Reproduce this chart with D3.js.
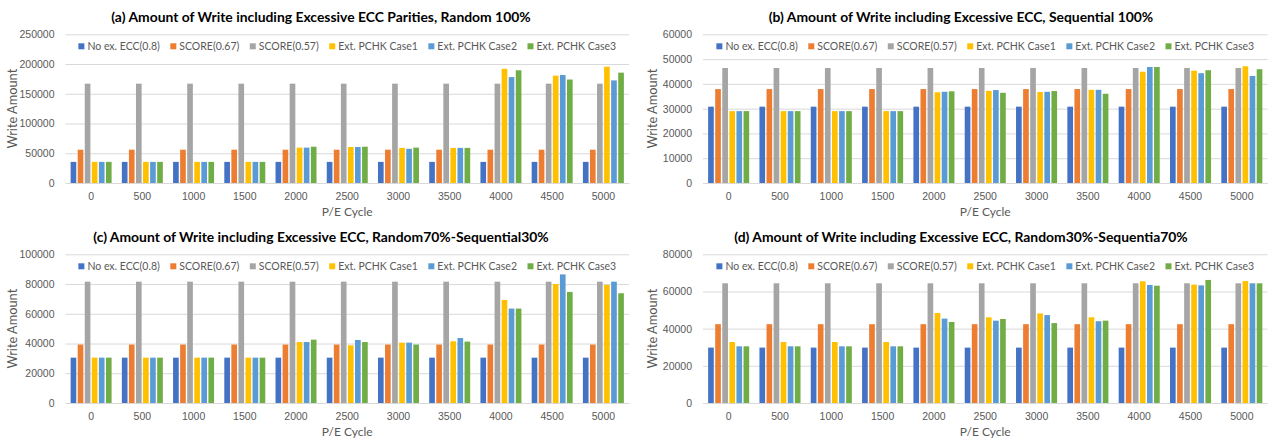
<!DOCTYPE html>
<html>
<head>
<meta charset="utf-8">
<script src="https://cdn.jsdelivr.net/npm/d3@7"></script>
<style>
  html, body { margin: 0; padding: 0; background: #fff; }
  svg { display: block; font-family: Lato, "Open Sans", sans-serif; }
</style>
</head>
<body>
<svg id="chart" width="1268" height="440"></svg>
<script>
// P/E cycle categories shared by every panel
const cycles = ["0", "500", "1000", "1500", "2000", "2500", "3000", "3500", "4000", "4500", "5000"];

const seriesNames = ["No ex. ECC(0.8)", "SCORE(0.67)", "SCORE(0.57)", "Ext. PCHK Case1", "Ext. PCHK Case2", "Ext. PCHK Case3"];
const seriesColors = ["#4472C4", "#ED7D31", "#A5A5A5", "#FFC000", "#5B9BD5", "#70AD47"];

// (a) Random 100%
const randNoEx   = [35500, 35500, 35500, 35500, 35500, 35500, 35500, 35500, 35500, 35500, 35500];
const randScore67 = [56000, 56000, 56000, 56000, 56000, 56000, 56000, 56000, 56000, 56000, 56000];
const randScore57 = [167000, 167000, 167000, 167000, 167000, 167000, 167000, 167000, 167000, 167000, 167000];
const randCase1  = [35500, 35500, 35500, 35500, 59500, 60500, 59000, 59000, 192000, 180500, 195500];
const randCase2  = [35500, 35500, 35500, 35500, 59500, 60500, 57500, 59000, 178000, 181500, 172500];
const randCase3  = [35500, 35500, 35500, 35500, 61000, 61000, 59500, 59000, 189500, 174000, 185500];
const randTicks  = [0, 50000, 100000, 150000, 200000, 250000];

// (b) Sequential 100%
const seqNoEx    = [30800, 30800, 30800, 30800, 30800, 30800, 30800, 30800, 30800, 30800, 30800];
const seqScore67 = [37900, 37900, 37900, 37900, 37900, 37900, 37900, 37900, 37900, 37900, 37900];
const seqScore57 = [46400, 46400, 46400, 46400, 46400, 46400, 46400, 46400, 46400, 46400, 46400];
const seqCase1   = [29000, 29000, 29000, 29000, 36600, 37200, 36700, 37600, 44900, 45300, 47100];
const seqCase2   = [29000, 29000, 29000, 29000, 36800, 37500, 36800, 37600, 46800, 44300, 43200];
const seqCase3   = [29000, 29000, 29000, 29000, 37000, 36400, 37100, 36000, 46800, 45500, 45900];
const seqTicks   = [0, 10000, 20000, 30000, 40000, 50000, 60000];

// (c) Random 70% - Sequential 30%
const r70NoEx    = [30500, 30500, 30500, 30500, 30500, 30500, 30500, 30500, 30500, 30500, 30500];
const r70Score67 = [39300, 39300, 39300, 39300, 39300, 39300, 39300, 39300, 39300, 39300, 39300];
const r70Score57 = [81600, 81600, 81600, 81600, 81600, 81600, 81600, 81600, 81600, 81600, 81600];
const r70Case1   = [30500, 30500, 30500, 30500, 41000, 38800, 40600, 41500, 69300, 80000, 79400];
const r70Case2   = [30500, 30500, 30500, 30500, 41000, 42400, 40600, 43700, 63500, 86500, 81600];
const r70Case3   = [30500, 30500, 30500, 30500, 42600, 41000, 39300, 41300, 63500, 74700, 73800];
const r70Ticks   = [0, 20000, 40000, 60000, 80000, 100000];

// (d) Random 30% - Sequential 70%
const r30NoEx    = [29800, 29800, 29800, 29800, 29800, 29800, 29800, 29800, 29800, 29800, 29800];
const r30Score67 = [42400, 42400, 42400, 42400, 42400, 42400, 42400, 42400, 42400, 42400, 42400];
const r30Score57 = [64400, 64400, 64400, 64400, 64400, 64400, 64400, 64400, 64400, 64400, 64400];
const r30Case1   = [32800, 32800, 32800, 32800, 48400, 46100, 48200, 46100, 65500, 63700, 65600];
const r30Case2   = [30500, 30500, 30500, 30500, 45400, 44300, 47300, 44000, 63500, 63300, 64400];
const r30Case3   = [30500, 30500, 30500, 30500, 43600, 45200, 43000, 44300, 63100, 66200, 64400];
const r30Ticks   = [0, 20000, 40000, 60000, 80000];

const panels = [
  { title: "(a) Amount of Write including Excessive ECC Parities, Random 100%",
    series: [randNoEx, randScore67, randScore57, randCase1, randCase2, randCase3], ticks: randTicks,
    left: 0, top: 0, x0: 65.5, x1: 629, y0: 34.3, y1: 183 },
  { title: "(b) Amount of Write including Excessive ECC, Sequential 100%",
    series: [seqNoEx, seqScore67, seqScore57, seqCase1, seqCase2, seqCase3], ticks: seqTicks,
    left: 640, top: 0, x0: 63, x1: 627.5, y0: 34.3, y1: 183 },
  { title: "(c) Amount of Write including Excessive ECC, Random70%-Sequential30%",
    series: [r70NoEx, r70Score67, r70Score57, r70Case1, r70Case2, r70Case3], ticks: r70Ticks,
    left: 0, top: 220, x0: 65.5, x1: 629, y0: 34.3, y1: 183 },
  { title: "(d) Amount of Write including Excessive ECC, Random30%-Sequentia70%",
    series: [r30NoEx, r30Score67, r30Score57, r30Case1, r30Case2, r30Case3], ticks: r30Ticks,
    left: 640, top: 220, x0: 63, x1: 627.5, y0: 34.3, y1: 183 }
];

const svg = d3.select("#chart");
const textGrey = "#595959";
const gridGrey = "#D9D9D9";

panels.forEach(p => {
  const g = svg.append("g").attr("transform", `translate(${p.left},${p.top})`);
  const w = p.x1 - p.x0, h = p.y1 - p.y0;
  const plot = g.append("g").attr("transform", `translate(${p.x0},${p.y0})`);

  const x = d3.scaleBand().domain(cycles).range([0, w]).paddingInner(0.2).paddingOuter(0.1);
  const xs = d3.scaleBand().domain(d3.range(seriesNames.length)).range([0, x.bandwidth()]).paddingInner(0.2);
  const y = d3.scaleLinear().domain([0, d3.max(p.ticks)]).range([h, 0]);

  // horizontal gridlines with value labels
  const yAxis = plot.append("g")
    .call(d3.axisLeft(y).tickValues(p.ticks).tickSize(-w).tickPadding(11).tickFormat(d3.format("d")));
  yAxis.select(".domain").remove();
  yAxis.selectAll(".tick line").attr("stroke", gridGrey).attr("stroke-width", 1);
  yAxis.selectAll(".tick text").attr("fill", textGrey).style("font-size", "10.5px");

  // bars
  p.series.forEach((vals, si) => {
    plot.append("g").selectAll("rect")
      .data(vals)
      .join("rect")
      .attr("x", (d, i) => x(cycles[i]) + xs(si))
      .attr("y", d => y(d))
      .attr("width", xs.bandwidth())
      .attr("height", d => h - y(d))
      .attr("fill", seriesColors[si]);
  });

  // category axis
  const xAxis = plot.append("g").attr("transform", `translate(0,${h})`)
    .call(d3.axisBottom(x).tickSize(0).tickPadding(10));
  xAxis.select(".domain").attr("stroke", gridGrey);
  xAxis.selectAll(".tick text").attr("fill", textGrey).style("font-size", "10.5px");

  // axis titles
  g.append("text")
    .attr("x", p.x0 + w / 2).attr("y", p.y1 + 33)
    .attr("text-anchor", "middle").attr("fill", textGrey)
    .style("font-size", "12px").text("P/E Cycle");
  g.append("text")
    .attr("transform", `translate(17,${p.y0 + h / 2}) rotate(-90)`)
    .attr("text-anchor", "middle").attr("fill", textGrey)
    .style("font-size", "12.8px").text("Write Amount");

  // chart title
  g.append("text")
    .attr("x", 321).attr("y", 21.5)
    .attr("text-anchor", "middle").attr("fill", "#000")
    .style("font-size", "13.9px").style("font-weight", "bold")
    .text(p.title);

  // legend, centred over the plot
  const leg = g.append("g").attr("transform", `translate(0,${p.y0 + 12})`);
  const items = leg.selectAll("g").data(seriesNames).join("g");
  items.append("rect").attr("width", 6).attr("height", 6).attr("y", -3)
    .attr("fill", (d, i) => seriesColors[i]);
  items.append("text").attr("x", 9).attr("dy", "0.35em")
    .attr("fill", textGrey).style("font-size", "10.5px").text(d => d);
  const gap = 10.5;
  let widths = [];
  items.each(function() { widths.push(9 + d3.select(this).select("text").node().getComputedTextLength()); });
  const total = d3.sum(widths) + gap * (widths.length - 1);
  let cx = p.x0 + w / 2 - total / 2;
  items.attr("transform", (d, i) => {
    const t = `translate(${cx},0)`;
    cx += widths[i] + gap;
    return t;
  });
});
</script>
</body>
</html>
